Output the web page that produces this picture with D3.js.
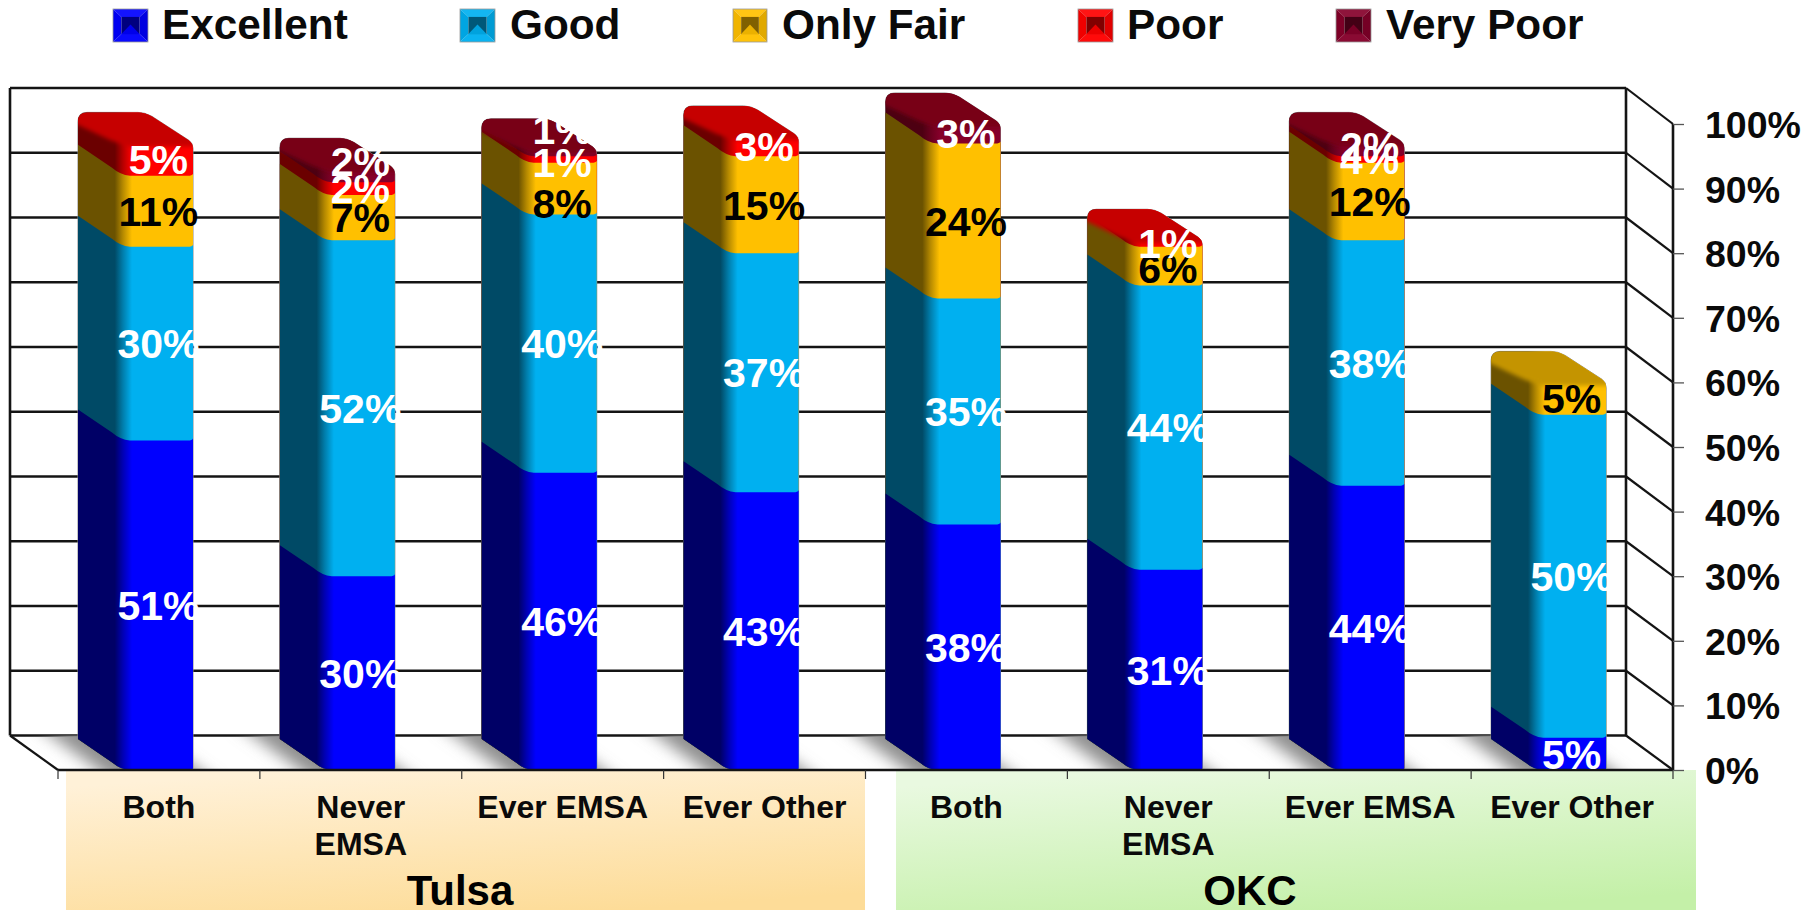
<!DOCTYPE html>
<html><head><meta charset="utf-8">
<script src="https://cdn.jsdelivr.net/npm/d3@7/dist/d3.min.js"></script>
<style>html,body{margin:0;padding:0;background:#fff}svg{display:block}text{font-family:"Liberation Sans",Arial,sans-serif;font-weight:bold}</style>
</head><body><svg id="c" width="1814" height="910"></svg>
<script>
// ---- data ----
const categories = ["Both","Never EMSA","Ever EMSA","Ever Other","Both","Never EMSA","Ever EMSA","Ever Other"];
const categoryLines = [["Both"],["Never","EMSA"],["Ever EMSA"],["Ever Other"],["Both"],["Never","EMSA"],["Ever EMSA"],["Ever Other"]];
const groups = ["Tulsa","OKC"];
const seriesNames = ["Excellent","Good","Only Fair","Poor","Very Poor"];
const excellent = [51,30,46,43,38,31,44,5];
const good      = [30,52,40,37,35,44,38,50];
const onlyFair  = [11,7,8,15,24,6,12,5];
const poor      = [5,2,1,3,0,1,1,0];
const veryPoor  = [0,2,1,0,3,0,2,0];
const yTicks = [0,10,20,30,40,50,60,70,80,90,100];
// labels that differ from the segment: printed text, and shift in percentage points
const labelTextOverride = {"6|Poor":"4%"};
const labelShift = {"1|Very Poor":2.3,"2|Very Poor":3.7,"6|Very Poor":0.6,"2|Only Fair":-2.2,"2|Poor":-0.4,"5|Only Fair":-0.4};

const front  = {"Excellent":"#0000FF","Good":"#00B0F0","Only Fair":"#FFC000","Poor":"#FF0000","Very Poor":"#85002A"};
const side   = {"Excellent":"#000066","Good":"#004A66","Only Fair":"#6B5200","Poor":"#6B0000","Very Poor":"#4D0012"};
const topCol = {"Excellent":"#0000C0","Good":"#0088C0","Only Fair":"#C49400","Poor":"#C60000","Very Poor":"#780019"};
const lblCol = {"Excellent":"#fff","Good":"#fff","Only Fair":"#000","Poor":"#fff","Very Poor":"#fff"};

const rows = categories.map((c,i)=>({i,"Excellent":excellent[i],"Good":good[i],"Only Fair":onlyFair[i],"Poor":poor[i],"Very Poor":veryPoor[i]}));
const stacked = d3.stack().keys(seriesNames)(rows);

const svg = d3.select("#c");
const defs = svg.append("defs");

// scales
const x = d3.scaleBand().domain(d3.range(categories.length)).range([58,1673]);
const y = d3.scaleLinear().domain([0,100]).range([770,124]);
const yBack = d3.scaleLinear().domain([0,100]).range([735.5,88]);
const wallL = 10, wallR = 1626, depthX = 45, depthY = 31;
const barBackLeft = i => x(i)+20, barRight = i => x(i)+135, barFrontLeft = i => barBackLeft(i)+depthX;

// gradients
seriesNames.forEach((s,k)=>{
  const g = defs.append("linearGradient").attr("id","g"+k).attr("x1",0).attr("x2",1).attr("y1",0).attr("y2",0);
  [[0,side[s]],[.32,side[s]],[.39,d3.interpolateRgb(side[s],front[s])(.5)],[.47,front[s]],[1,front[s]]]
    .forEach(([o,c])=>g.append("stop").attr("offset",o).attr("stop-color",c));
});
const lin=(id,x1,y1,x2,y2,a,b)=>{const g=defs.append("linearGradient").attr("id",id).attr("x1",x1).attr("y1",y1).attr("x2",x2).attr("y2",y2);
  g.append("stop").attr("offset",0).attr("stop-color",a);g.append("stop").attr("offset",1).attr("stop-color",b);};
lin("tulsa",.3,0,.7,1,"#FFF1D8","#FDDC98");
lin("okc",.3,0,.7,1,"#E9F9E0","#C4F0A8");
defs.append("filter").attr("id","b1").attr("x","-20%").attr("y","-40%").attr("width","140%").attr("height","180%")
  .append("feGaussianBlur").attr("stdDeviation",2.2);
defs.append("filter").attr("id","b2").attr("x","-40%").attr("y","-60%").attr("width","180%").attr("height","220%")
  .append("feGaussianBlur").attr("stdDeviation",8);
defs.append("clipPath").attr("id","floorClip").append("path")
  .attr("d",`M${wallL},${yBack(0)}L${wallR},${yBack(0)}L${x.range()[1]},${y(0)}L${x.range()[0]},${y(0)}Z`);

// panels
const panelTop = y(0), panelBottom = 910;
const panelX = d3.scaleOrdinal().domain(groups).range([[66,865],[896,1696]]);
const groupTextX = d3.scaleOrdinal().domain(groups).range([460,1250]);
groups.forEach((g,k)=>{
  const [a,b]=panelX(g);
  svg.append("rect").attr("x",a).attr("y",panelTop).attr("width",b-a).attr("height",panelBottom-panelTop).attr("fill",`url(#${k?"okc":"tulsa"})`);
  svg.append("text").attr("x",groupTextX(g)).attr("y",905).attr("text-anchor","middle").attr("font-size",42).text(g);
});

// walls and floor
const ink="#141414", lw=2.6;
const wall = svg.append("g").attr("fill","none").attr("stroke",ink).attr("stroke-width",lw);
yTicks.forEach(t=>{
  wall.append("line").attr("x1",wallL).attr("x2",wallR).attr("y1",yBack(t)).attr("y2",yBack(t));
  wall.append("line").attr("x1",wallR).attr("x2",x.range()[1]).attr("y1",yBack(t)).attr("y2",y(t)).attr("stroke-width",2.2);
});
wall.append("line").attr("x1",wallL).attr("x2",wallL).attr("y1",yBack(100)).attr("y2",yBack(0));
wall.append("line").attr("x1",wallR).attr("x2",wallR).attr("y1",yBack(100)).attr("y2",yBack(0));
wall.append("line").attr("x1",wallL).attr("x2",x.range()[0]).attr("y1",yBack(0)).attr("y2",y(0)).attr("stroke-width",2.2);

// floor shadows
const shadow = svg.append("g").attr("clip-path","url(#floorClip)").append("g").attr("filter","url(#b2)");
rows.forEach(r=>{
  const i=r.i, y0=y(0), yb=yBack(0), dx=x.range()[0]-wallL;
  const l=barFrontLeft(i)-24, rr=barRight(i)+6;
  shadow.append("path").attr("d",`M${l-dx*1.4},${yb-14}L${rr-dx*1.4},${yb-14}L${rr+dx*.4},${y0+14}L${l+dx*.4},${y0+14}Z`).attr("fill","#8f8f8f");
});

// bars
const bars = svg.append("g");
rows.forEach(r=>{
  const i=r.i, bl=barBackLeft(i), fl=barFrontLeft(i), rt=barRight(i), y0=y(0);
  const layers = stacked.map((st,k)=>({name:st.key,k,v0:st[i][0],v1:st[i][1]})).filter(d=>d.v1>d.v0);
  const topLayer = layers[layers.length-1], T=y(topLayer.v1);
  const floorTail = `L${rt},${y0-2}Q${rt},${y0} ${rt-2},${y0}L${fl+6},${y0}Q${fl-3},${y0-1} ${fl-10},${y0-7}L${bl},${y0-depthY}Z`;
  const edge = yv => `M${bl},${yv-depthY}L${fl-11},${yv-8}Q${fl-3},${yv-1} ${fl+7},${yv}L${rt-5},${yv}Q${rt-1},${yv} ${rt},${yv-2}`;
  const silhouette = `M${bl},${T-depthY+9}Q${bl},${T-depthY} ${bl+9},${T-depthY}L${rt-depthX-10},${T-depthY}Q${rt-depthX-3},${T-depthY} ${rt-depthX+4},${T-depthY+4}L${rt-4},${T-3}Q${rt},${T} ${rt},${T+5}`+floorTail;
  const b = bars.append("g");
  b.append("path").attr("d",silhouette).attr("fill","#fff").attr("stroke","#8a8a8a").attr("stroke-width",1);
  layers.slice().reverse().forEach(d=>{
    const path = d===topLayer ? silhouette : edge(y(d.v1))+floorTail;
    b.append("path").attr("d",path).attr("fill",`url(#g${d.k})`);
  });
  // top surface
  const cid="clip"+i;
  defs.append("clipPath").attr("id",cid).append("path").attr("d",silhouette);
  const cap=b.append("g").attr("clip-path",`url(#${cid})`);
  cap.append("path").attr("filter","url(#b1)").attr("fill",topCol[topLayer.name])
    .attr("d",`M${bl-12},${T-depthY-12}L${rt-depthX+6},${T-depthY-12}L${rt+14},${T-4}L${rt+14},${T+3}L${fl+6},${T+3}L${fl-12},${T-3}L${bl-12},${T-depthY+7}Z`);
});

// axis lines in front of bars
const axis = svg.append("g").attr("fill","none").attr("stroke",ink);
axis.append("line").attr("x1",x.range()[0]).attr("x2",x.range()[1]).attr("y1",y(0)).attr("y2",y(0)).attr("stroke-width",lw);
axis.append("line").attr("x1",x.range()[1]).attr("x2",x.range()[1]).attr("y1",y(100)).attr("y2",y(0)).attr("stroke-width",lw);
d3.range(categories.length+1).forEach(i=>{
  const px=x.range()[0]+i*x.step();
  axis.append("line").attr("x1",px).attr("x2",px).attr("y1",y(0)).attr("y2",y(0)+9).attr("stroke-width",1.2).attr("stroke","#333");
});

// y axis
const yAxis = d3.axisRight(y).tickValues(yTicks).tickFormat(d=>d+"%").tickSize(11).tickPadding(21);
const gy = svg.append("g").attr("transform",`translate(${x.range()[1]},0)`).call(yAxis);
gy.select(".domain").remove();
gy.selectAll("line").attr("stroke","#555").attr("stroke-width",1.3);
gy.selectAll("text").attr("font-size",37.5).attr("fill","#0a0a0a").attr("dy",".36em");

// category labels
categoryLines.forEach((lines,i)=>{
  const t=svg.append("text").attr("text-anchor","middle").attr("font-size",32).attr("fill","#0a0a0a");
  lines.forEach((ln,j)=>t.append("tspan").attr("x",x(i)+x.bandwidth()/2).attr("y",818+j*36.5).text(ln));
});

// data labels
const labels = svg.append("g").attr("text-anchor","middle").attr("font-size",41);
stacked.forEach(st=>st.forEach((d,i)=>{
  const v=d[1]-d[0]; if(!v) return;
  const key=i+"|"+st.key, c=(d[0]+d[1])/2+(labelShift[key]||0);
  labels.append("text").attr("x",x(i)+x.bandwidth()/2-0.5).attr("y",y(c)).attr("dy",".36em")
    .attr("fill",lblCol[st.key]).text(labelTextOverride[key]||v+"%");
}));

// legend
const legX = d3.scaleOrdinal().domain(seriesNames).range([113,460,733,1078,1336]);
const legW = d3.scaleOrdinal().domain(seriesNames).range([35,35,34,35,35]);
const legTextX = d3.scaleOrdinal().domain(seriesNames).range([162,510,782,1127,1386]);
const swY=9, swH=33;
seriesNames.forEach(s=>{
  const a=legX(s), w=legW(s), g=svg.append("g");
  const ix=w*.24, iy=swH*.24, dk=d3.interpolateRgb(front[s],"#000"), lt=d3.interpolateRgb(front[s],"#fff");
  const poly=(pts,c)=>g.append("polygon").attr("points",pts.map(p=>p.join(",")).join(" ")).attr("fill",c);
  const A=[a,swY],B=[a+w,swY],C=[a+w,swY+swH],D=[a,swY+swH],E=[a+ix,swY+iy],F=[a+w-ix,swY+iy],G=[a+w-ix,swY+swH-iy],H=[a+ix,swY+swH-iy];
  poly([A,B,F,E],lt(.08)); poly([B,C,G,F],dk(.12)); poly([C,D,H,G],lt(.04)); poly([D,A,E,H],dk(.06));
  g.append("rect").attr("x",E[0]).attr("y",E[1]).attr("width",F[0]-E[0]).attr("height",G[1]-E[1]).attr("fill",dk(.5));
  poly([[a+w/2,swY+swH/2-1],[a+w-ix,swY+swH-iy],[a+ix,swY+swH-iy]],dk(.08));
  g.append("rect").attr("x",a).attr("y",swY).attr("width",w).attr("height",swH).attr("fill","none").attr("stroke","#9a9a9a").attr("stroke-width",.8);
  svg.append("text").attr("x",legTextX(s)).attr("y",39).attr("font-size",42.3).attr("fill","#0a0a0a").text(s);
});
</script></body></html>
